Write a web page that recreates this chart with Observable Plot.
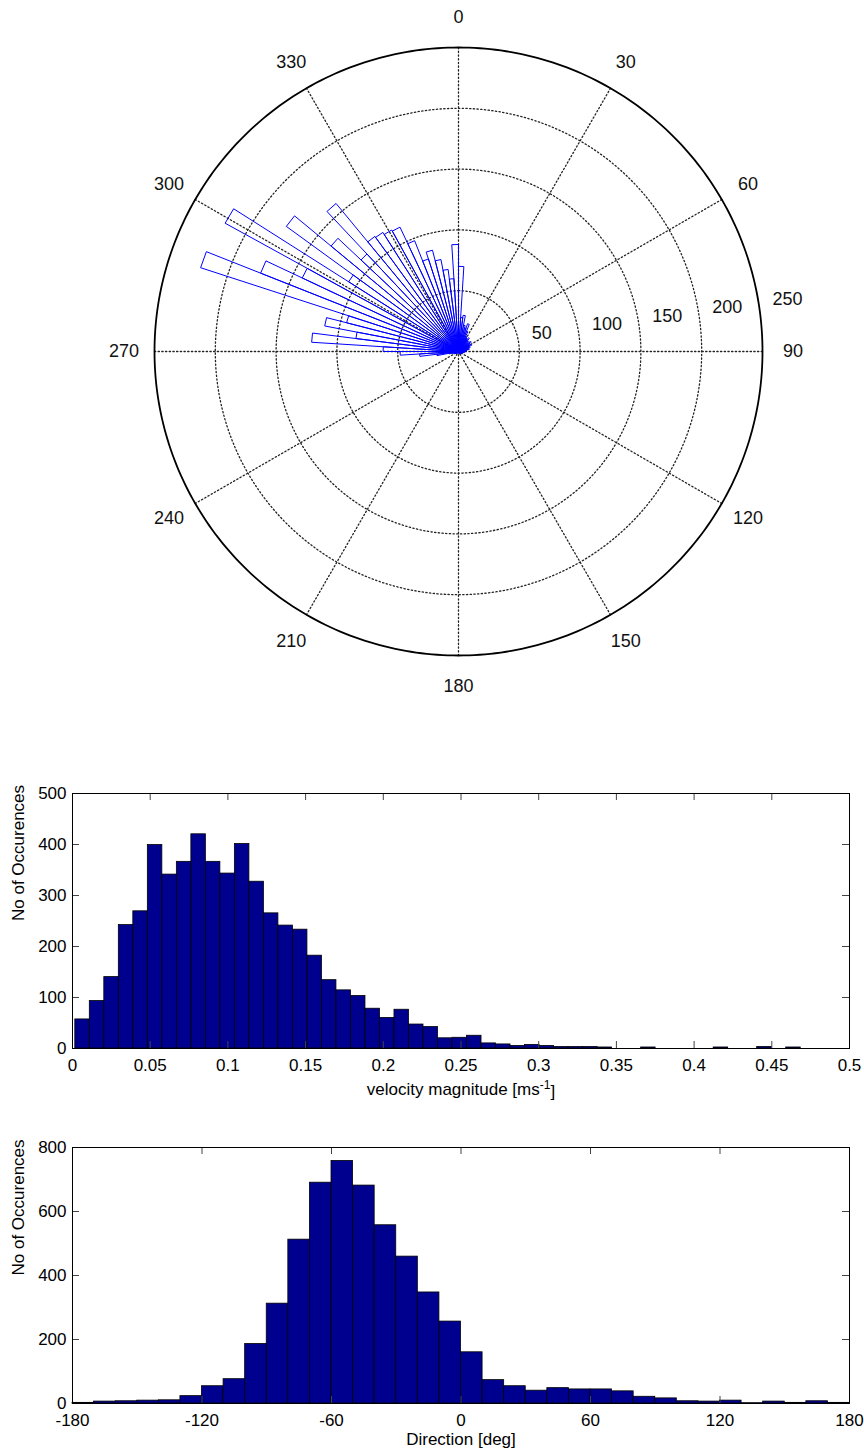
<!DOCTYPE html>
<html><head><meta charset="utf-8">
<script src="https://cdn.jsdelivr.net/npm/d3@7"></script>
<script src="https://cdn.jsdelivr.net/npm/@observablehq/plot@0.6"></script>
<style>
body{margin:0;background:#fff;font-family:"Liberation Sans",Arial,sans-serif;}
#wrap{width:864px;}
#wrap svg{display:block;background:#fff;}
</style></head><body><div id="wrap"></div>
<script>
// ---------- data ----------
// rose: counts per direction bin (100 bins of 3.6 deg, compass, clockwise from north)
const roseCounts = [
  70, 28, 30, 22, 20, 24, 18, 14, 13, 12,
  14, 11, 12, 10, 13, 11, 10, 12, 9, 10,
  8, 9, 7, 6, 6, 5, 4, 5, 3, 4,
  3, 2, 3, 3, 2, 1, 3, 1, 2, 1,
  2, 1, 1, 2, 0, 1, 2, 1, 0, 1,
  1, 0, 1, 1, 0, 1, 1, 0, 2, 1,
  1, 2, 1, 1, 2, 2, 3, 2, 4, 3,
  5, 8, 18, 32, 48, 62, 121, 85, 112, 95,
  223, 175, 142, 219, 107, 175, 136, 110, 158, 117,
  116, 114, 113, 98, 80, 86, 77, 68, 60, 88
];
const roseRings = [50, 100, 150, 200];
const roseRMax = 250;
const roseRLabels = [50, 100, 150, 200, 250];
const angleTicks = [0, 30, 60, 90, 120, 150, 180, 210, 240, 270, 300, 330];
const spokeAngles = [0, 30, 60, 90, 120, 150];

// velocity magnitude histogram (50 bins over the data range)
const speedCounts = [
  57, 93, 140, 242, 269, 399, 341, 366, 420, 366,
  343, 401, 327, 265, 241, 233, 182, 134, 114, 103,
  78, 60, 76, 47, 42, 20, 21, 25, 10, 8,
  5, 7, 5, 3, 3, 3, 2, 0, 0, 2,
  0, 0, 0, 0, 2, 0, 0, 3, 0, 2
];
const speedRange = [0.0018, 0.4686];
const speedXTicks = [0, 0.05, 0.1, 0.15, 0.2, 0.25, 0.3, 0.35, 0.4, 0.45, 0.5];
const speedYTicks = [0, 100, 200, 300, 400, 500];

// direction histogram (36 bins of 10 deg)
const dirCounts = [
  2, 6, 7, 9, 10, 23, 54, 76, 186, 312,
  512, 690, 758, 681, 557, 459, 347, 256, 160, 73,
  54, 40, 48, 44, 44, 38, 21, 16, 7, 6,
  9, 1, 6, 2, 7, 2
];
const dirRange = [-180, 180];
const dirXTicks = [-180, -120, -60, 0, 60, 120, 180];
const dirYTicks = [0, 200, 400, 600, 800];

const FONT = '"Liberation Sans", Arial, Helvetica, sans-serif';
const wrap = document.getElementById("wrap");

// ---------- polar rose ----------
const rad = d => d * Math.PI / 180;
const pol = (deg, r) => ({x: r * Math.sin(rad(deg)), y: r * Math.cos(rad(deg))});
const nb = roseCounts.length, bw = 360 / nb;
const wedgePts = roseCounts.flatMap((c, i) => [
  {bin: i, x: 0, y: 0},
  {bin: i, ...pol(i * bw, c)},
  {bin: i, ...pol((i + 1) * bw, c)},
  {bin: i, x: 0, y: 0}
]);
const circ = r => d3.range(0, 361, 1).map(a => ({r, ...pol(a, r)}));
const ringPts = roseRings.flatMap(circ);
const outerPts = circ(roseRMax);
const spokePts = spokeAngles.flatMap(a => [{a, ...pol(a, roseRMax)}, {a, ...pol(a + 180, roseRMax)}]);

const polar = Plot.plot({
  width: 864, height: 720,
  marginLeft: 154, marginRight: 102, marginTop: 47, marginBottom: 65,
  x: {domain: [-roseRMax, roseRMax], axis: null},
  y: {domain: [-roseRMax, roseRMax], axis: null},
  style: {fontFamily: FONT, fontSize: "18px", color: "black", background: "white"},
  marks: [
    Plot.line(ringPts, {x: "x", y: "y", z: "r", stroke: "#222", strokeWidth: 1.3, strokeDasharray: "1.3,2.4"}),
    Plot.line(spokePts, {x: "x", y: "y", z: "a", stroke: "#222", strokeWidth: 1.3, strokeDasharray: "1.3,2.4"}),
    Plot.line(outerPts, {x: "x", y: "y", stroke: "black", strokeWidth: 1.8}),
    Plot.line(wedgePts, {x: "x", y: "y", z: "bin", stroke: "#0000ff", strokeWidth: 1}),
    Plot.text(angleTicks, {
      x: a => pol(a, roseRMax * 1.1).x, y: a => pol(a, roseRMax * 1.1).y,
      text: a => String(a), fontSize: 18, fill: "#111"
    }),
    Plot.text(roseRLabels, {
      x: r => pol(82, r + 2.5).x, y: r => pol(82, r + 2.5).y,
      text: r => String(r), textAnchor: "start", lineAnchor: "bottom",
      dx: 10, dy: -4, fontSize: 18, fill: "#111"
    })
  ]
});
wrap.appendChild(polar);

// ---------- histogram helper ----------
function hist({counts, range, xDomain, yDomain, xTicks, yTicks, height, marginTop, marginBottom, xLabel, xLabelDy, tickPad}) {
  const w = (range[1] - range[0]) / counts.length;
  const bins = counts.map((c, i) => ({x1: range[0] + i * w, x2: range[0] + (i + 1) * w, y: c}));
  const W = 864, ML = 72, MR = 15;
  const fw = W - ML - MR, fh = height - marginTop - marginBottom;
  const tk = 7;
  return Plot.plot({
    width: W, height, marginLeft: ML, marginRight: MR, marginTop, marginBottom,
    x: {domain: xDomain}, y: {domain: yDomain},
    style: {fontFamily: FONT, fontSize: "17px", color: "black", background: "white"},
    marks: [
      Plot.rectY(bins, {x1: "x1", x2: "x2", y: "y", fill: "#00008f", stroke: "black", strokeWidth: 0.8}),
      Plot.tickX(xTicks, {x: d => d, insetTop: fh - tk, stroke: "#444"}),
      Plot.tickX(xTicks, {x: d => d, insetBottom: fh - tk, stroke: "#444"}),
      Plot.tickY(yTicks, {y: d => d, insetRight: fw - tk, stroke: "#444"}),
      Plot.tickY(yTicks, {y: d => d, insetLeft: fw - tk, stroke: "#444"}),
      Plot.frame({stroke: "black", strokeWidth: 1}),
      Plot.axisX({ticks: xTicks, tickSize: 0, tickPadding: tickPad, tickFormat: d => String(d), label: null, fontSize: 17}),
      Plot.axisY({ticks: yTicks, tickSize: 0, tickPadding: 6, tickFormat: d => String(d), label: null, fontSize: 17}),
      Plot.text(["No of Occurences"], {frameAnchor: "left", rotate: -90, dx: -54, fontSize: 17}),
      Plot.text([xLabel], {frameAnchor: "bottom", dy: xLabelDy, fontSize: 17})
    ]
  });
}

const h1 = hist({
  counts: speedCounts, range: speedRange, xDomain: [0, 0.5], yDomain: [0, 500],
  xTicks: speedXTicks, yTicks: speedYTicks, height: 385, marginTop: 73, marginBottom: 57,
  xLabel: "velocity magnitude [ms-1]", xLabelDy: 46, tickPad: 10
});
wrap.appendChild(h1);
// superscript for the unit
d3.select(h1).selectAll("text").filter(function() { return this.textContent === "velocity magnitude [ms-1]"; })
  .each(function() {
    const t = d3.select(this);
    t.text("velocity magnitude [ms");
    t.append("tspan").attr("dy", "-0.45em").attr("font-size", "12px").text("-1");
    t.append("tspan").attr("dy", "0.45em").text("]");
  });

const h2 = hist({
  counts: dirCounts, range: dirRange, xDomain: [-180, 180], yDomain: [0, 800],
  xTicks: dirXTicks, yTicks: dirYTicks, height: 349, marginTop: 42, marginBottom: 51,
  xLabel: "Direction [deg]", xLabelDy: 41, tickPad: 10
});
wrap.appendChild(h2);
</script>
</body></html>
